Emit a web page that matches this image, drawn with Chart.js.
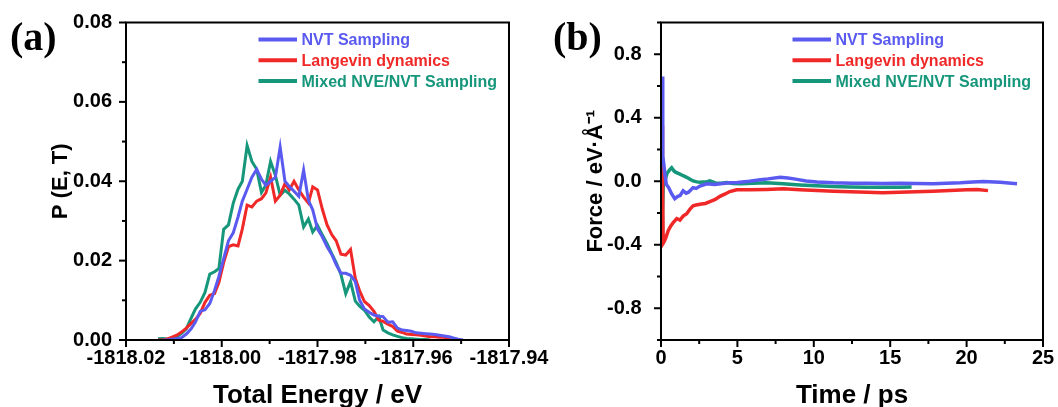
<!DOCTYPE html>
<html>
<head>
<meta charset="utf-8">
<script src="https://cdn.jsdelivr.net/npm/chart.js@4/dist/chart.umd.min.js"></script>
<style>
  body { margin: 0; background: #fff; width: 1058px; height: 407px; position: relative; overflow: hidden; }
  canvas { position: absolute; top: 0; }
  #chartA { left: 0; }
  #chartB { left: 530px; }
  .panel { position: absolute; top: 17px; font-family: 'Liberation Serif', serif; font-weight: bold; font-size: 40px; line-height: 40px; }
</style>
</head>
<body>
<canvas id="chartA" width="560" height="407"></canvas>
<canvas id="chartB" width="528" height="407"></canvas>
<div class="panel" style="left:10px">(a)</div>
<div class="panel" style="left:553px">(b)</div>
<script>
const seriesNames = ['NVT Sampling', 'Langevin dynamics', 'Mixed NVE/NVT Sampling'];
const seriesColors = ['#5a5af0', '#f02828', '#16967a'];

// (a) energy histogram
const energyEv = [
  -1818.0133, -1818.0123, -1818.0113, -1818.0104, -1818.0094, -1818.0084, -1818.0074, -1818.0064,
  -1818.0055, -1818.0045, -1818.0035, -1818.0025, -1818.0015, -1818.0006, -1817.9996, -1817.9986,
  -1817.9976, -1817.9966, -1817.9957, -1817.9947, -1817.9937, -1817.9927, -1817.9917, -1817.9908,
  -1817.9898, -1817.9888, -1817.9878, -1817.9868, -1817.9859, -1817.9849, -1817.9839, -1817.9829,
  -1817.9819, -1817.9810, -1817.9800, -1817.9790, -1817.9780, -1817.9770, -1817.9761, -1817.9751,
  -1817.9741, -1817.9731, -1817.9721, -1817.9712, -1817.9702, -1817.9692, -1817.9682, -1817.9672,
  -1817.9663, -1817.9653, -1817.9643, -1817.9633, -1817.9623, -1817.9614, -1817.9604, -1817.9594,
  -1817.9584, -1817.9574, -1817.9565, -1817.9555, -1817.9545, -1817.9535, -1817.9525, -1817.9516,
  -1817.9506, -1817.9496
];
const nvtProb = [
  null, 0, 0, 0.0002, 0.0003, 0.0006, 0.0015, 0.0028, 0.0045, 0.0072, 0.0076, 0.0092, 0.0125, 0.016,
  0.0205, 0.025, 0.027, 0.031, 0.035, 0.038, 0.041, 0.043, 0.0405, 0.039, 0.040, 0.041, 0.0486, 0.040,
  0.0387, 0.0375, 0.0362, 0.0428, 0.0352, 0.0328, 0.028, 0.026, 0.0235, 0.0215, 0.019, 0.0168, 0.0168,
  0.0163, 0.0147, 0.0100, 0.0078, 0.007, 0.0063, 0.006, 0.0059, 0.0045, 0.0046, 0.003, 0.0025, 0.0024,
  0.0022, 0.0018, 0.0017, 0.0016, 0.0015, 0.0014, 0.0012, 0.001, 0.0008, 0.0005, 0.0002, 0
];
const langevinProb = [
  0, 0, 0.0003, 0.0007, 0.0012, 0.002, 0.003, 0.0042, 0.0052, 0.0067, 0.0095, 0.0113, 0.0117, 0.0145,
  0.0195, 0.0235, 0.024, 0.0237, 0.028, 0.034, 0.0335, 0.035, 0.0356, 0.037, 0.041, 0.035, 0.0365,
  0.0394, 0.0378, 0.040, 0.0378, 0.036, 0.0345, 0.0386, 0.0378, 0.033, 0.029, 0.0265, 0.025, 0.0216,
  0.0214, 0.0228, 0.0155, 0.0124, 0.0097, 0.0087, 0.0072, 0.005, 0.0047, 0.004, 0.0034, 0.0022, 0.0019,
  0.0015, 0.0014, 0.0013, 0.0012, 0.001, 0.0008, 0.0008, 0.0007, 0.0007, 0.0003, 0, null, null
];
const mixedProb = [
  0.0003, 0.0004, 0.0002, 0, 0.0008, 0.0017, 0.0028, 0.0055, 0.0078, 0.0095, 0.012, 0.0166, 0.0172,
  0.018, 0.0279, 0.029, 0.0345, 0.038, 0.040, 0.049, 0.045, 0.043, 0.0372, 0.039, 0.045, 0.0415,
  0.0365, 0.0377, 0.0368, 0.0355, 0.034, 0.0285, 0.0305, 0.0272, 0.0289, 0.0265, 0.0243, 0.0217,
  0.0195, 0.0165, 0.0117, 0.0147, 0.0098, 0.0085, 0.0075, 0.0058, 0.0046, 0.0059, 0.0025, 0.0018,
  0.0013, 0.0009, 0.0006, 0.0004, 0.0003, 0.0002, 0.0001, 0.0001, 0, null, null, null, null, null, null, null
];

// (b) force vs time
const nvtTime = [0.08, 0.1, 0.13, 0.18, 0.25, 0.35, 0.5, 0.7, 0.9, 1.1, 1.25, 1.45, 1.65, 1.8, 2.1, 2.3, 2.55, 3.0, 3.5, 3.9, 4.5, 5.0, 5.8, 6.5, 7.0, 7.8, 8.3, 8.7, 9.5, 10.2, 11.3, 12.5, 13.5, 14.5, 15.6, 16.7, 17.8, 18.7, 19.6, 20.4, 21.1, 22.2, 23.3];
const nvtForce = [0.66, 0.40, 0.16, 0.11, 0.05, -0.02, -0.04, -0.08, -0.11, -0.095, -0.09, -0.06, -0.075, -0.069, -0.04, -0.045, -0.03, -0.016, -0.02, -0.016, -0.01, -0.008, 0.0, 0.01, 0.015, 0.025, 0.02, 0.015, 0.002, -0.005, -0.01, -0.012, -0.012, -0.014, -0.012, -0.014, -0.016, -0.012, -0.01, -0.004, -0.002, -0.006, -0.016];
const langevinTime = [0.08, 0.1, 0.14, 0.2, 0.3, 0.48, 0.65, 0.8, 1.03, 1.24, 1.45, 1.68, 1.9, 2.1, 2.3, 2.55, 2.9, 3.2, 3.55, 3.86, 4.2, 4.5, 4.95, 5.8, 6.9, 8.0, 9.1, 10.2, 11.3, 12.4, 13.5, 14.5, 15.6, 16.7, 17.8, 18.9, 20.0, 20.7, 21.4];
const langevinForce = [0.35, 0.0, -0.39, -0.38, -0.36, -0.31, -0.28, -0.26, -0.235, -0.245, -0.22, -0.205, -0.175, -0.155, -0.15, -0.145, -0.14, -0.128, -0.115, -0.095, -0.08, -0.065, -0.054, -0.054, -0.052, -0.048, -0.054, -0.058, -0.063, -0.066, -0.069, -0.073, -0.07, -0.066, -0.063, -0.058, -0.054, -0.052, -0.059];
const mixedTime = [0.08, 0.1, 0.15, 0.26, 0.4, 0.55, 0.7, 0.85, 0.95, 1.24, 1.45, 1.68, 1.9, 2.1, 2.35, 2.55, 3.0, 3.2, 3.6, 3.9, 4.3, 4.7, 5.2, 6.0, 6.9, 8.0, 9.1, 10.2, 11.3, 12.4, 13.5, 14.6, 15.6, 16.4];
const mixedForce = [-0.39, -0.2, -0.02, 0.005, 0.05, 0.07, 0.085, 0.065, 0.057, 0.045, 0.035, 0.025, 0.012, 0.002, -0.004, -0.006, -0.003, 0.002, -0.012, -0.012, -0.008, -0.014, -0.016, -0.012, -0.01, -0.016, -0.023, -0.028, -0.033, -0.036, -0.038, -0.038, -0.038, -0.037];

Chart.defaults.font.family = "'Liberation Sans', Arial, sans-serif";
Chart.defaults.color = '#000';

const toPoints = (xs, ys) => xs.map((x, i) => ({ x: x, y: ys[i] })).filter(p => p.y !== null);

// frame, Origin-like tick marks and the in-plot legend
const originLook = {
  id: 'originLook',
  afterDraw(chart) {
    const ctx = chart.ctx;
    const a = chart.chartArea;
    const sx = chart.scales.x;
    const sy = chart.scales.y;
    ctx.save();
    ctx.strokeStyle = '#000000';
    ctx.lineWidth = 2;
    ctx.beginPath();
    ctx.rect(a.left, a.top, a.right - a.left, a.bottom - a.top);
    ctx.stroke();
    for (let i = 0; i < sx.ticks.length; i++) {
      const p = sx.getPixelForTick(i);
      const len = sx.ticks[i].label ? 7 : 4;
      ctx.beginPath(); ctx.moveTo(p, a.bottom); ctx.lineTo(p, a.bottom + len); ctx.stroke();
    }
    for (let i = 0; i < sy.ticks.length; i++) {
      const p = sy.getPixelForTick(i);
      const len = sy.ticks[i].label ? 7 : 4;
      ctx.beginPath(); ctx.moveTo(a.left - len, p); ctx.lineTo(a.left, p); ctx.stroke();
    }

    ctx.font = 'bold 16px "Liberation Sans", Arial, sans-serif';
    ctx.textBaseline = 'middle';
    chart.data.datasets.forEach((ds, i) => {
      const y = a.top + 17 + 20.8 * i;
      const x0 = a.right - 250.5;
      ctx.strokeStyle = ds.borderColor;
      ctx.lineWidth = 4;
      ctx.beginPath(); ctx.moveTo(x0, y); ctx.lineTo(x0 + 38.5, y); ctx.stroke();
      ctx.fillStyle = ds.borderColor;
      ctx.fillText(ds.label, x0 + 43, y + 1);
    });
    ctx.restore();
  }
};

const tickFont = { size: 20, weight: 'bold', lineHeight: 1 };

function lineSet(label, color, points, width) {
  return { label: label, data: points, borderColor: color, backgroundColor: color,
           borderWidth: width, pointRadius: 0, tension: 0, fill: false };
}

function buildChart(id, opts) {
  return new Chart(document.getElementById(id), {
    type: 'line',
    data: { datasets: opts.datasets },
    options: {
      responsive: false,
      animation: false,
      devicePixelRatio: 1,
      layout: { padding: { top: 22.5, right: opts.padRight, left: 0, bottom: 0 } },
      plugins: { legend: { display: false }, tooltip: { enabled: false } },
      scales: {
        x: {
          type: 'linear', min: opts.xMin, max: opts.xMax,
          grid: { display: false }, border: { display: false },
          afterFit: s => { s.height = 67; s.paddingLeft = 0; s.paddingRight = 0; },
          ticks: { stepSize: opts.xStep, autoSkip: false, maxRotation: 0, padding: 0.5,
                   font: tickFont, color: '#000', callback: opts.xLabel },
          title: { display: true, text: opts.xTitle, color: '#000',
                   font: { size: 26, weight: 'bold', lineHeight: 1 }, padding: { top: 0, bottom: -2 } }
        },
        y: {
          type: 'linear', min: opts.yMin, max: opts.yMax,
          grid: { display: false }, border: { display: false },
          afterFit: s => { s.width = opts.leftWidth; s.paddingTop = 0; s.paddingBottom = 0; },
          ticks: { stepSize: opts.yStep, autoSkip: false, padding: opts.yPad,
                   font: tickFont, color: '#000', callback: opts.yLabel },
          title: { display: true, text: opts.yTitle, color: '#000',
                   font: { size: 22, weight: 'bold', lineHeight: 1 }, padding: { top: opts.yTitleOff, bottom: 0 } }
        }
      }
    },
    plugins: [originLook]
  });
}

buildChart('chartA', {
  datasets: [
    lineSet(seriesNames[0], seriesColors[0], toPoints(energyEv, nvtProb), 3),
    lineSet(seriesNames[1], seriesColors[1], toPoints(energyEv, langevinProb), 3),
    lineSet(seriesNames[2], seriesColors[2], toPoints(energyEv, mixedProb), 3)
  ],
  padRight: 51, leftWidth: 126, yPad: 6, yTitleOff: 50,
  xMin: -1818.02, xMax: -1817.94, xStep: 0.01,
  xLabel: v => (Math.abs(Math.round(v * 100)) % 2 === 0 ? v.toFixed(2) : ''),
  xTitle: 'Total Energy / eV',
  yMin: 0, yMax: 0.08, yStep: 0.01,
  yLabel: v => (Math.round(v * 100) % 2 === 0 ? v.toFixed(2) : ''),
  yTitle: 'P (E, T)'
});

buildChart('chartB', {
  datasets: [
    lineSet(seriesNames[0], seriesColors[0], toPoints(nvtTime, nvtForce), 3.5),
    lineSet(seriesNames[1], seriesColors[1], toPoints(langevinTime, langevinForce), 3.5),
    lineSet(seriesNames[2], seriesColors[2], toPoints(mixedTime, mixedForce), 3.5)
  ],
  padRight: 15, leftWidth: 131, yPad: 11.5, yTitleOff: 54.5,
  xMin: 0, xMax: 25, xStep: 2.5,
  xLabel: v => (Math.round(v / 2.5) % 2 === 0 ? String(Math.round(v)) : ''),
  xTitle: 'Time / ps',
  yMin: -1, yMax: 1, yStep: 0.2,
  yLabel: v => (Math.abs(Math.round(v * 10)) % 4 === 0 ? (Math.abs(v) < 1e-9 ? '0.0' : v.toFixed(1)) : ''),
  yTitle: 'Force / eV·Å⁻¹'
});
</script>
</body>
</html>
